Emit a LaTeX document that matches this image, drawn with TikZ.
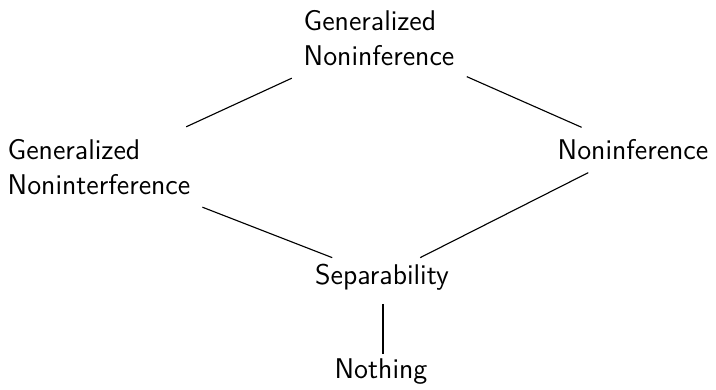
\documentclass[tikz,border=0pt]{standalone}
\begin{document}
\begin{tikzpicture}[x=0.4pt,y=-0.4pt,
  lbl/.style={font=\sffamily\fontsize{11.4}{14}\selectfont, align=left, inner sep=2pt, outer sep=3pt},
  conn/.style={draw=black, line width=0.45pt}]
\useasboundingbox (0,0) rectangle (716,390);
\node[lbl] (gni) at (379,38) {Generalized\\Noninference};
\node[lbl] (gnint) at (99,167) {Generalized\\Noninterference};
\node[lbl] (ni) at (633,150) {Noninference};
\node[lbl, inner sep=0.5pt, outer sep=2pt] (sep) at (382,277) {Separability};
\node[lbl] (no) at (381,372) {Nothing};
\draw[conn] (gni) -- (gnint);
\draw[conn] (gni) -- (ni);
\draw[conn] (gnint) -- (sep);
\draw[conn] (ni) -- (sep);
\draw[conn, shorten <=3pt, shorten >=-3pt] (sep.south -| 383,0) -- (no.north -| 383,0);
\end{tikzpicture}
\end{document}
